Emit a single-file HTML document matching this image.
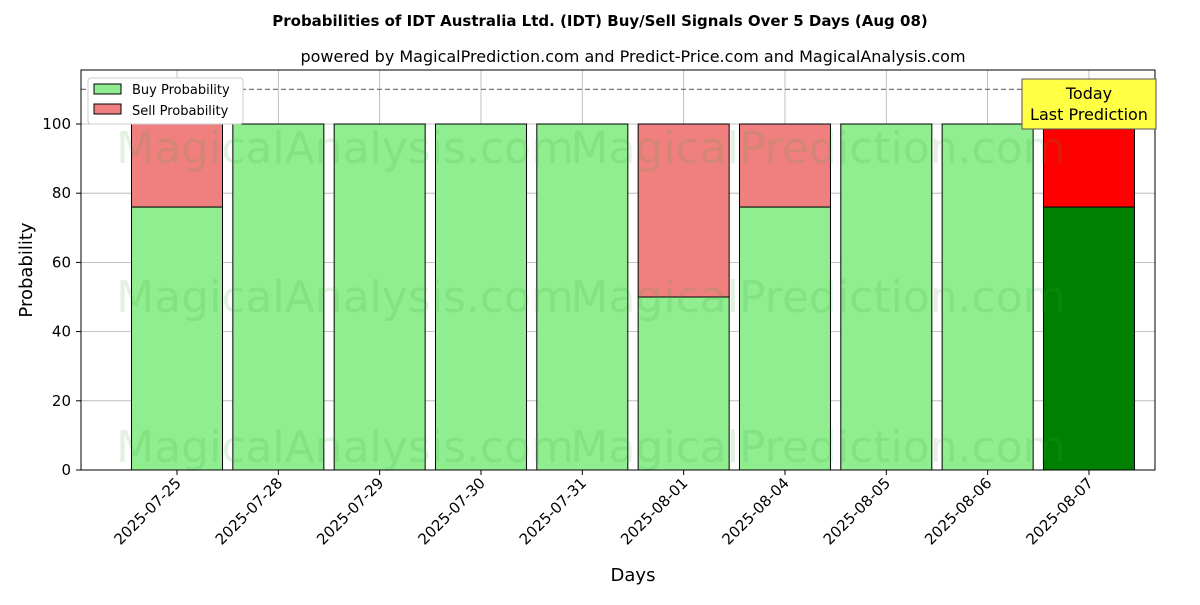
<!DOCTYPE html>
<html><head><meta charset="utf-8"><style>body{margin:0;background:#fff}svg{font-family:"DejaVu Sans","Liberation Sans",sans-serif}</style></head>
<body>
<svg id="c" width="1200" height="600" xmlns="http://www.w3.org/2000/svg">
<text x="600" y="26" text-anchor="middle" font-size="15" font-weight="bold">Probabilities of IDT Australia Ltd. (IDT) Buy/Sell Signals Over 5 Days (Aug 08)</text>
<text x="633" y="62" text-anchor="middle" font-size="16">powered by MagicalPrediction.com and Predict-Price.com and MagicalAnalysis.com</text>
<g id="grid"></g><g id="bars"></g><g id="wm"></g><g id="axes"></g>
</svg>
<script>
const categories=["2025-07-25","2025-07-28","2025-07-29","2025-07-30","2025-07-31","2025-08-01","2025-08-04","2025-08-05","2025-08-06","2025-08-07"];
const buyValues=[76,100,100,100,100,50,76,100,100,76];
const sellValues=[24,0,0,0,0,50,24,0,0,24];
const yTicks=[0,20,40,60,80,100];
const NS="http://www.w3.org/2000/svg";
const L=81,R=1155,T=70,B=470;
const y=v=>B-v*3.46;
const x=i=>177+i*101.33;
const bw=91;
function mk(p,t,a,txt){const e=document.createElementNS(NS,t);for(const k in a)e.setAttribute(k,a[k]);if(txt!==undefined)e.textContent=txt;document.getElementById(p).appendChild(e);return e;}
yTicks.forEach(v=>{const g=mk('grid','line',{x1:L,x2:R,y1:y(v),y2:y(v),stroke:'#b0b0b0','stroke-width':0.8});

const t=mk('axes','text',{x:L-10,y:y(v)+5,'text-anchor':'end','font-size':15},v);

mk('axes','line',{x1:L-5,x2:L,y1:y(v),y2:y(v),stroke:'#000'});});
categories.forEach((c,i)=>{const g=mk('grid','line',{x1:x(i),x2:x(i),y1:T,y2:B,stroke:'#b0b0b0','stroke-width':0.8});

const last=i===categories.length-1;
const b=mk('bars','rect',{x:x(i)-bw/2,y:y(buyValues[i]),width:bw,height:y(0)-y(buyValues[i]),fill:last?'#008000':'#90ee90',stroke:'#000','stroke-width':1});

const s=mk('bars','rect',{x:x(i)-bw/2,y:y(buyValues[i]+sellValues[i]),width:bw,height:y(buyValues[i])-y(buyValues[i]+sellValues[i]),fill:last?'#ff0000':'#f08080',stroke:'#000','stroke-width':1});

mk('axes','line',{x1:x(i),x2:x(i),y1:B,y2:B+5,stroke:'#000'});
const t=mk('axes','text',{x:0,y:0,'text-anchor':'end','font-size':15,transform:`translate(${x(i)+5},${B+14}) rotate(-45)`},c);
});
[[345,'MagicalAnalysis.com'],[818,'MagicalPrediction.com']].forEach(([cx,s])=>[163,312,462].forEach(yy=>{const w=mk('wm','text',{x:cx,y:yy,'text-anchor':'middle','font-size':44,fill:'rgba(60,160,60,0.15)'},s);}));
const d=mk('axes','line',{x1:L,x2:R,y1:y(110),y2:y(110),stroke:'#777','stroke-dasharray':'5,3','stroke-width':1.2});

mk('axes','rect',{x:L,y:T,width:R-L,height:B-T,fill:'none',stroke:'#000'});
</script>
<svg style="position:absolute;left:0;top:0" width="1200" height="600" xmlns="http://www.w3.org/2000/svg" font-family="DejaVu Sans, Liberation Sans, sans-serif">
<g>
<rect x="88" y="78" width="155" height="46" fill="#fff" stroke="#ccc" rx="3"/>
<rect x="94" y="84" width="27" height="10" fill="#90ee90" stroke="#000"/>
<text x="132" y="94" font-size="13">Buy Probability</text>
<rect x="94" y="104" width="27" height="10" fill="#f08080" stroke="#000"/>
<text x="132" y="115" font-size="13">Sell Probability</text>
</g>
<g>
<rect x="1022" y="79" width="134" height="50" fill="#ffff44" stroke="#555"/>
<text x="1089" y="99" text-anchor="middle" font-size="16">Today</text>
<text x="1089" y="120" text-anchor="middle" font-size="16">Last Prediction</text>
</g>
<text x="633" y="581" text-anchor="middle" font-size="18">Days</text>
<text transform="translate(32,270) rotate(-90)" text-anchor="middle" font-size="18">Probability</text>
</svg>
</body></html>
